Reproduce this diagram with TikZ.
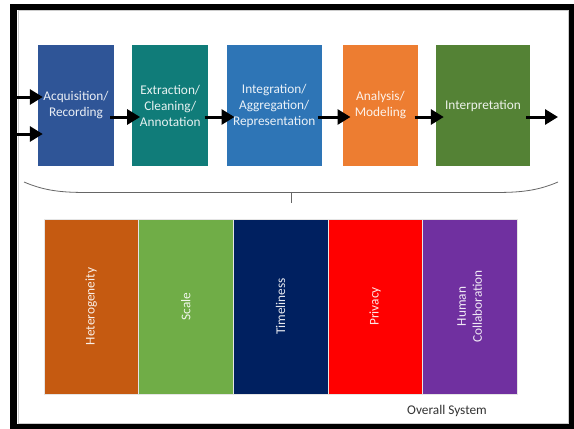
\documentclass[tikz,border=0pt]{standalone}
\usepackage{fontspec}
\setmainfont{Carlito}
\usetikzlibrary{arrows.meta}

\definecolor{acqc}{RGB}{47,85,151}
\definecolor{extc}{RGB}{16,124,121}
\definecolor{intc}{RGB}{46,117,182}
\definecolor{anac}{RGB}{237,125,49}
\definecolor{inc}{RGB}{84,130,53}
\definecolor{hetc}{RGB}{197,90,17}
\definecolor{scac}{RGB}{112,173,71}
\definecolor{timc}{RGB}{0,32,96}
\definecolor{pric}{RGB}{255,0,0}
\definecolor{humc}{RGB}{112,48,160}

\begin{document}
\begin{tikzpicture}[x=1pt, y=-1pt,
 stage/.style={rectangle, minimum height=121pt, inner sep=0pt, align=center, text=white, text opacity=.9, font=\fontsize{13.3}{16}\selectfont},
 bar/.style={rectangle, minimum width=175pt, minimum height=94.6pt, inner sep=0pt, rotate=90, align=center, draw=white!80!gray, line width=.3pt, text=white, text opacity=.9, font=\fontsize{13.3}{16}\selectfont},
 flow/.style={line width=3pt, -{Triangle[length=13pt,width=15pt]}, shorten <=-4pt, shorten >=-8pt}]
\useasboundingbox (0,0) rectangle (574,429);
\fill[white] (0,0) rectangle (574,429);
\draw[gray!40, line width=.6pt] (18,10.5) rectangle (568.5,423);
\draw[black, line width=6.5pt] (13.5,7) rectangle (572.5,427);
\node[stage, fill=acqc, minimum width=76pt] (acq) at (76,105.5) {Acquisition/\\Recording};
\node[stage, fill=extc, minimum width=76pt] (ext) at (170.3,105.5) {Extraction/\\Cleaning/\\Annotation};
\node[stage, fill=intc, minimum width=95pt] (int) at (274.2,105.5) {Integration/\\Aggregation/\\Representation};
\node[stage, fill=anac, minimum width=75.6pt] (ana) at (380.5,105.5) {Analysis/\\Modeling};
\node[stage, fill=inc, minimum width=94pt] (inter) at (483,105.5) {Interpretation};
\coordinate (in1) at (17,97);
\coordinate (in2) at (17,134);
\coordinate (out) at (558,117);
\draw[flow, shorten <=0pt, shorten >=-5pt] (in1) -- ([yshift=8.5pt]acq.west);
\draw[flow, shorten <=0pt, shorten >=-5pt] (in2) -- ([yshift=-28.5pt]acq.west);
\draw[flow] ([yshift=-11.5pt]acq.east) -- ([yshift=-11.5pt]ext.west);
\draw[flow] ([yshift=-11.5pt]ext.east) -- ([yshift=-11.5pt]int.west);
\draw[flow] ([yshift=-11.5pt]int.east) -- ([yshift=-11.5pt]ana.west);
\draw[flow] ([yshift=-11.5pt]ana.east) -- ([yshift=-11.5pt]inter.west);
\draw[flow, shorten >=0pt] ([yshift=-11.5pt]inter.east) -- (out);
\draw[gray!80!black, line width=.8pt] (24,182) .. controls (45,191) and (62,192.5) .. (88,192.5) -- (494,192.5) .. controls (520,192.5) and (537,191) .. (558,182);
\draw[gray!80!black, line width=.8pt] (291,192.5) -- (291,203);
\foreach \n/\c/\t [count=\i] in {het/hetc/Heterogeneity, sca/scac/Scale, tim/timc/Timeliness, pri/pric/Privacy, hum/humc/{Human\\Collaboration}}
 \node[bar, fill=\c] (\n) at ({91.3+94.6*(\i-1)},306.5) {\t};
\node[text=black!80, font=\fontsize{13.3}{16}\selectfont] (sys) at (447,411) {Overall System};
\end{tikzpicture}
\end{document}
